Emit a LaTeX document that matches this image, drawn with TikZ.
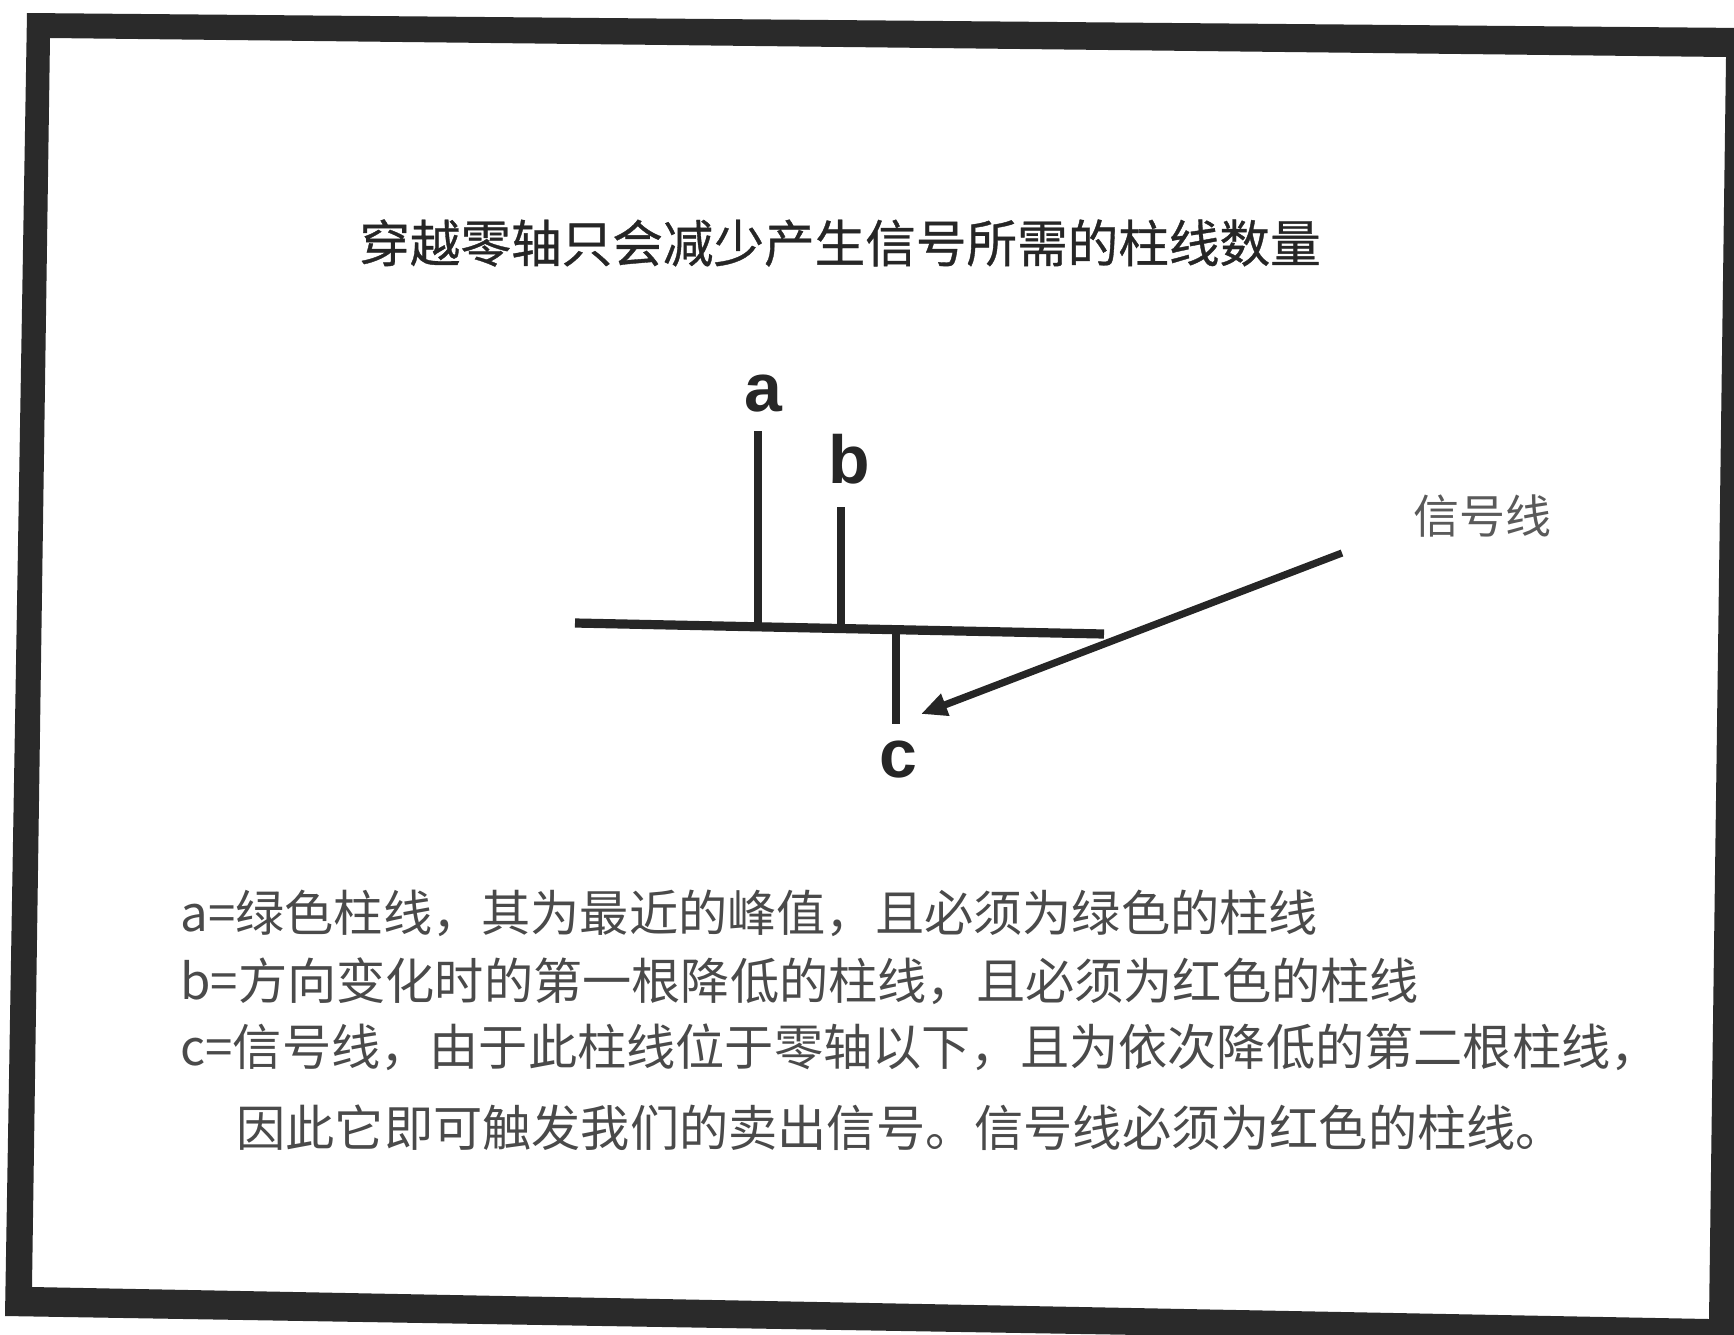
\documentclass[tikz,border=0pt]{standalone}
\usepackage{fontspec}
\usetikzlibrary{arrows.meta}
\newfontfamily\cjk{Noto Sans CJK SC}
\newfontfamily\cjkbold[FakeBold=0.7]{Noto Sans CJK SC}
\newfontfamily\lab{Liberation Sans}
\definecolor{frame}{HTML}{2A2A2A}
\definecolor{ink}{HTML}{262626}
\definecolor{bodyink}{HTML}{4A4A4A}
\definecolor{soft}{HTML}{5A5A5A}
\tikzset{
  barline/.style={draw=ink, line width=3.8pt},
  axisline/.style={draw=ink, line width=4.6pt},
  sigarrow/.style={draw=ink, line width=3.6pt, -{Triangle[length=13pt,width=11pt]}},
  barlabel/.style={font=\lab\bfseries\fontsize{34pt}{34pt}\selectfont, text=ink, anchor=base, inner sep=0pt},
  bodytext/.style={font=\cjk\fontsize{24.6pt}{24.6pt}\selectfont, text=bodyink, anchor=west, inner sep=0pt},
}
\begin{document}
\begin{tikzpicture}[x=0.5pt,y=-0.5pt]
\useasboundingbox (0,0) rectangle (1734,1334);
% frame
\fill[frame, even odd rule] (27,13) -- (1745,28) -- (1740,1345) -- (5,1316) -- cycle
  (50,38) -- (1726,57) -- (1709,1319) -- (32,1287) -- cycle;
% title
\node[font=\cjkbold\fontsize{25.3pt}{25.3pt}\selectfont, text=ink, inner sep=0pt] (title) at (840,243) {穿越零轴只会减少产生信号所需的柱线数量};
% axis
\coordinate (axL) at (575,623);
\coordinate (axR) at (1104,634);
\draw[axisline] (axL) -- (axR);
% bars
\coordinate (aTop) at (758,431);
\coordinate (aBot) at (758,627);
\coordinate (bTop) at (841,507);
\coordinate (bBot) at (841,628);
\coordinate (cTop) at (896,630);
\coordinate (cBot) at (896,724);
\draw[barline] (aBot) -- (aTop);
\draw[barline] (bBot) -- (bTop);
\draw[barline] (cTop) -- (cBot);
\node[barlabel] (la) at (763,411) {a};
\node[barlabel] (lb) at (849,483) {b};
\node[barlabel] (lc) at (898,777) {c};
% signal arrow
\node[font=\cjk\fontsize{23pt}{23pt}\selectfont, text=soft, inner sep=0pt] (sig) at (1482,516) {信号线};
\coordinate (sigS) at (1342,553);
\coordinate (sigE) at (921,714);
\draw[sigarrow] (sigS) -- (sigE);
% body text
\node[bodytext] (l1) at (180,913) {a=绿色柱线，其为最近的峰值，且必须为绿色的柱线};
\node[bodytext] (l2) at (180,981) {b=方向变化时的第一根降低的柱线，且必须为红色的柱线};
\node[bodytext] (l3) at (180,1047) {c=信号线，由于此柱线位于零轴以下，且为依次降低的第二根柱线，};
\node[bodytext] (l4) at (236,1128) {因此它即可触发我们的卖出信号。信号线必须为红色的柱线。};
\end{tikzpicture}
\end{document}
